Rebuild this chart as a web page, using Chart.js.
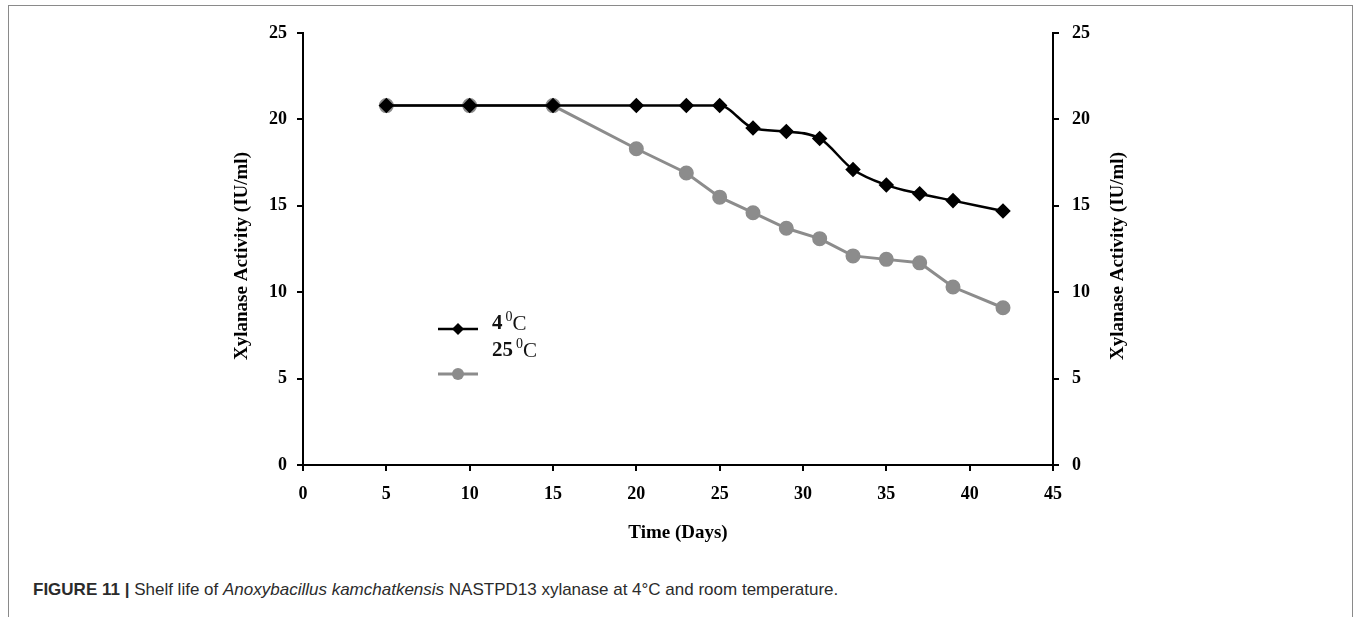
<!DOCTYPE html>
<html>
<head>
<meta charset="utf-8">
<script src="https://cdn.jsdelivr.net/npm/chart.js@4"></script>
<style>
  html, body { margin: 0; padding: 0; background: #fff; }
  body { width: 1360px; height: 617px; position: relative; overflow: hidden; }
  #frame { position: absolute; left: 8px; top: 5px; width: 1343px; height: 640px;
           border-left: 1px solid #8a8a8a; border-top: 1px solid #8a8a8a; border-right: 1px solid #8a8a8a; }
  #wrap { position: absolute; left: 0; top: 0; width: 1360px; height: 548px; }
  #caption { position: absolute; left: 33px; top: 580px; font-family: "Liberation Sans", Arial, sans-serif;
             font-size: 17px; color: #2b2b2b; white-space: nowrap; }
  #caption b { font-family: "Liberation Sans Narrow", "Liberation Sans", Arial, sans-serif; }
</style>
</head>
<body>
<div id="frame"></div>
<div id="wrap"><canvas id="shelfChart"></canvas></div>
<div id="caption"><b>FIGURE 11 |</b> Shelf life of <i>Anoxybacillus kamchatkensis</i> NASTPD13 xylanase at 4°C and room temperature.</div>
<script>
const days = [5, 10, 15, 20, 23, 25, 27, 29, 31, 33, 35, 37, 39, 42];
const activity4C = [20.8, 20.8, 20.8, 20.8, 20.8, 20.8, 19.5, 19.3, 18.9, 17.1, 16.2, 15.7, 15.3, 14.7];
const activity25C = [20.8, 20.8, 20.8, 18.3, 16.9, 15.5, 14.6, 13.7, 13.1, 12.1, 11.9, 11.7, 10.3, 9.1];
const seriesLabels = ['4', '25'];
const axisTitleY = 'Xylanase Activity (IU/ml)';
const axisTitleX = 'Time (Days)';

const serif = '"Liberation Serif", "Times New Roman", serif';
const tickFont = { family: serif, size: 18, weight: 'bold' };

const toPoints = vals => days.map((d, i) => ({ x: d, y: vals[i] }));

// hand-drawn legend and the two y titles (both read bottom to top, as in the original)
const extras = {
    id: 'extras',
    afterDraw(chart) {
        const ctx = chart.ctx;
        ctx.save();
        // legend: 4 °C sample
        ctx.strokeStyle = '#000';
        ctx.lineWidth = 2.5;
        ctx.beginPath(); ctx.moveTo(438, 329); ctx.lineTo(478, 329); ctx.stroke();
        ctx.fillStyle = '#000';
        ctx.beginPath();
        ctx.moveTo(458, 323); ctx.lineTo(464, 329); ctx.lineTo(458, 335); ctx.lineTo(452, 329);
        ctx.closePath(); ctx.fill();
        // legend: 25 °C sample (its text sits above it, as in the original)
        ctx.strokeStyle = '#8c8c8c';
        ctx.lineWidth = 3;
        ctx.beginPath(); ctx.moveTo(438, 374); ctx.lineTo(478, 374); ctx.stroke();
        ctx.fillStyle = '#8c8c8c';
        ctx.beginPath(); ctx.arc(458, 374, 6, 0, Math.PI * 2); ctx.fill();

        const degLabel = (num, x, y) => {
            ctx.fillStyle = '#111';
            ctx.textBaseline = 'middle';
            ctx.textAlign = 'left';
            ctx.font = 'bold 21px ' + serif;
            ctx.fillText(num, x, y);
            let w = ctx.measureText(num).width + 3;
            ctx.font = '14px ' + serif;
            ctx.fillText('0', x + w, y - 7);
            w += ctx.measureText('0').width;
            ctx.font = '21px ' + serif;
            ctx.fillText('C', x + w, y);
        };
        degLabel(seriesLabels[0], 492, 324);
        degLabel(seriesLabels[1], 492, 351);

        const yTitle = x => {
            ctx.save();
            ctx.translate(x, 256);
            ctx.rotate(-Math.PI / 2);
            ctx.font = 'bold 19px ' + serif;
            ctx.fillStyle = '#000';
            ctx.textAlign = 'center';
            ctx.textBaseline = 'middle';
            ctx.fillText(axisTitleY, 0, 0);
            ctx.restore();
        };
        yTitle(242);
        yTitle(1118);
        ctx.restore();
    }
};

const axisBase = {
    grid: { display: true, drawOnChartArea: false, drawTicks: true, tickLength: 6, color: '#000', lineWidth: 2 },
    border: { display: true, color: '#000', width: 2 }
};

new Chart(document.getElementById('shelfChart'), {
    type: 'line',
    data: {
        datasets: [
            {
                label: '4 °C',
                data: toPoints(activity4C),
                borderColor: '#000',
                backgroundColor: '#000',
                borderWidth: 2.5,
                pointStyle: 'rectRot',
                pointRadius: 6,
                cubicInterpolationMode: 'monotone',
                yAxisID: 'y'
            },
            {
                label: '25 °C',
                data: toPoints(activity25C),
                borderColor: '#8c8c8c',
                backgroundColor: '#8c8c8c',
                borderWidth: 3,
                pointStyle: 'circle',
                pointRadius: 6,
                tension: 0,
                yAxisID: 'y'
            }
        ]
    },
    options: {
        responsive: true,
        maintainAspectRatio: false,
        animation: false,
        layout: { padding: { left: 225, right: 230, top: 33, bottom: 0 } },
        plugins: { legend: { display: false }, tooltip: { enabled: false } },
        scales: {
            x: {
                ...axisBase,
                type: 'linear',
                min: 0, max: 45,
                ticks: { stepSize: 5, color: '#000', font: tickFont, padding: 13, maxRotation: 0 },
                title: { display: true, text: axisTitleX, color: '#000', font: { family: serif, size: 19, weight: 'bold' } },
                afterFit: s => { s.height = 83; }
            },
            y: {
                ...axisBase,
                position: 'left',
                min: 0, max: 25,
                ticks: { stepSize: 5, color: '#000', font: tickFont, padding: 10 },
                afterFit: s => { s.width = 78; }
            },
            y2: {
                ...axisBase,
                position: 'right',
                min: 0, max: 25,
                ticks: { stepSize: 5, color: '#000', font: tickFont, padding: 13 },
                afterFit: s => { s.width = 77; }
            }
        }
    },
    plugins: [extras]
});
</script>
</body>
</html>
